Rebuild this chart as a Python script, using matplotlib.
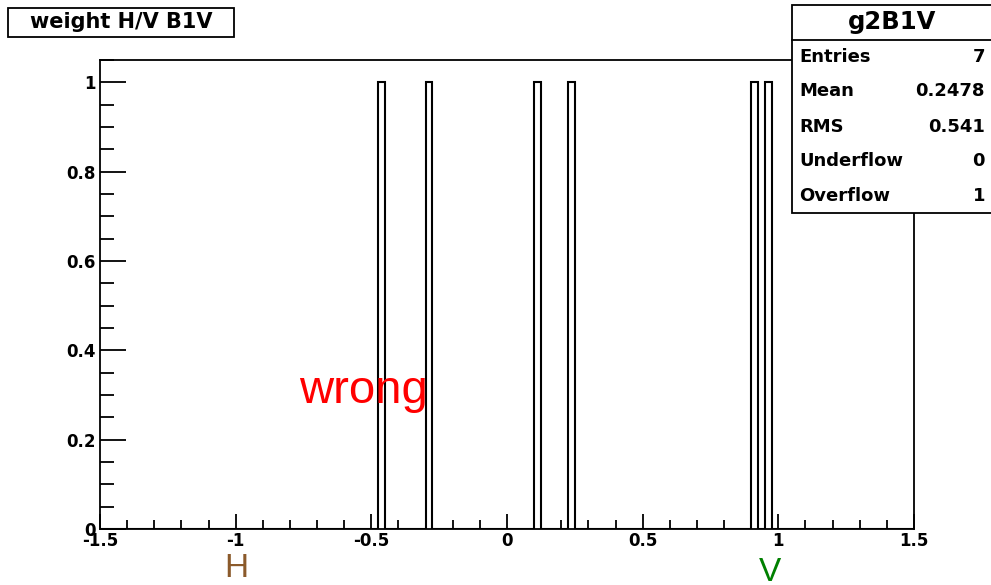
import numpy as np
import matplotlib
matplotlib.use("Agg")
import matplotlib.pyplot as plt
from matplotlib.patches import Rectangle
from matplotlib.ticker import MultipleLocator

# histogram entries (last one falls in the overflow)
values = [-0.4625, -0.2875, 0.1125, 0.2375, 0.9125, 0.9625, 1.6]
n_bins = 120
x_range = (-1.5, 1.5)

title = "weight H/V B1V"
hist_name = "g2B1V"
stat_names = ["Entries", "Mean", "RMS", "Underflow", "Overflow"]
stat_values = ["7", "0.2478", "0.541", "0", "1"]

W, H = 991, 585
plt.rcParams["font.family"] = ["DejaVu Sans"]

def fx(x):
    return x / W

def fy(y):
    return 1 - y / H

fig = plt.figure(figsize=(W / 100, H / 100), dpi=100)
ax = fig.add_axes([fx(100), fy(529), fx(914) - fx(100), fy(60) - fy(529)])

counts, edges = np.histogram(values, bins=n_bins, range=x_range)
ax.stairs(counts, edges, color="black", lw=1.5)

ax.set_xlim(*x_range)
ax.set_ylim(0, 1.05)
ax.xaxis.set_major_locator(MultipleLocator(0.5))
ax.xaxis.set_minor_locator(MultipleLocator(0.1))
ax.yaxis.set_major_locator(MultipleLocator(0.2))
ax.yaxis.set_minor_locator(MultipleLocator(0.05))
ax.xaxis.set_major_formatter(plt.FuncFormatter(lambda v, p: f"{v:g}"))
ax.yaxis.set_major_formatter(plt.FuncFormatter(lambda v, p: f"{v:g}"))
ax.tick_params(axis="x", which="major", direction="in", length=11, width=1.3, pad=2)
ax.tick_params(axis="x", which="minor", direction="in", length=6.5, width=1.3)
ax.tick_params(axis="y", which="major", direction="in", length=19, width=1.3, pad=3)
ax.tick_params(axis="y", which="minor", direction="in", length=10, width=1.3)
for lab in ax.get_xticklabels() + ax.get_yticklabels():
    lab.set_fontweight("bold")
    lab.set_fontsize(12)
for sp in ax.spines.values():
    sp.set_linewidth(1.3)

# title box
fig.patches.append(Rectangle((fx(8), fy(37)), fx(234) - fx(8), fy(8) - fy(37),
                             transform=fig.transFigure, fill=True, facecolor="white",
                             edgecolor="black", lw=1.3))
fig.text(fx(121), fy(22), title, ha="center", va="center", fontsize=15, fontweight="bold")

# stats box
fig.patches.append(Rectangle((fx(792), fy(213)), fx(1000) - fx(792), fy(5) - fy(213),
                             transform=fig.transFigure, fill=True, facecolor="white",
                             edgecolor="black", lw=1.3, zorder=5))
fig.add_artist(plt.Line2D([fx(792), fx(1000)], [fy(40), fy(40)], color="black", lw=1.3, zorder=6))
fig.text(fx(892), fy(22), hist_name, ha="center", va="center", fontsize=17.5, fontweight="bold", zorder=7)
row_y = [57, 91, 127, 161, 196]
for name, val, y in zip(stat_names, stat_values, row_y):
    fig.text(fx(799), fy(y), name, ha="left", va="center", fontsize=13, fontweight="bold", zorder=7)
    fig.text(fx(985), fy(y), val, ha="right", va="center", fontsize=13, fontweight="bold", zorder=7)

# annotations
ax.text(-0.53, 0.31, "wrong", color="red", fontsize=34, ha="center", va="center",
        family=["Liberation Sans"], zorder=10)
fig.text(fx(236), fy(553), "H", color="#8B5A2B", fontsize=24, ha="center", va="top",
         family=["Liberation Sans"])
fig.text(fx(770), fy(557), "V", color="green", fontsize=24, ha="center", va="top",
         family=["Liberation Sans"])

fig.savefig("out.png", dpi=100)
